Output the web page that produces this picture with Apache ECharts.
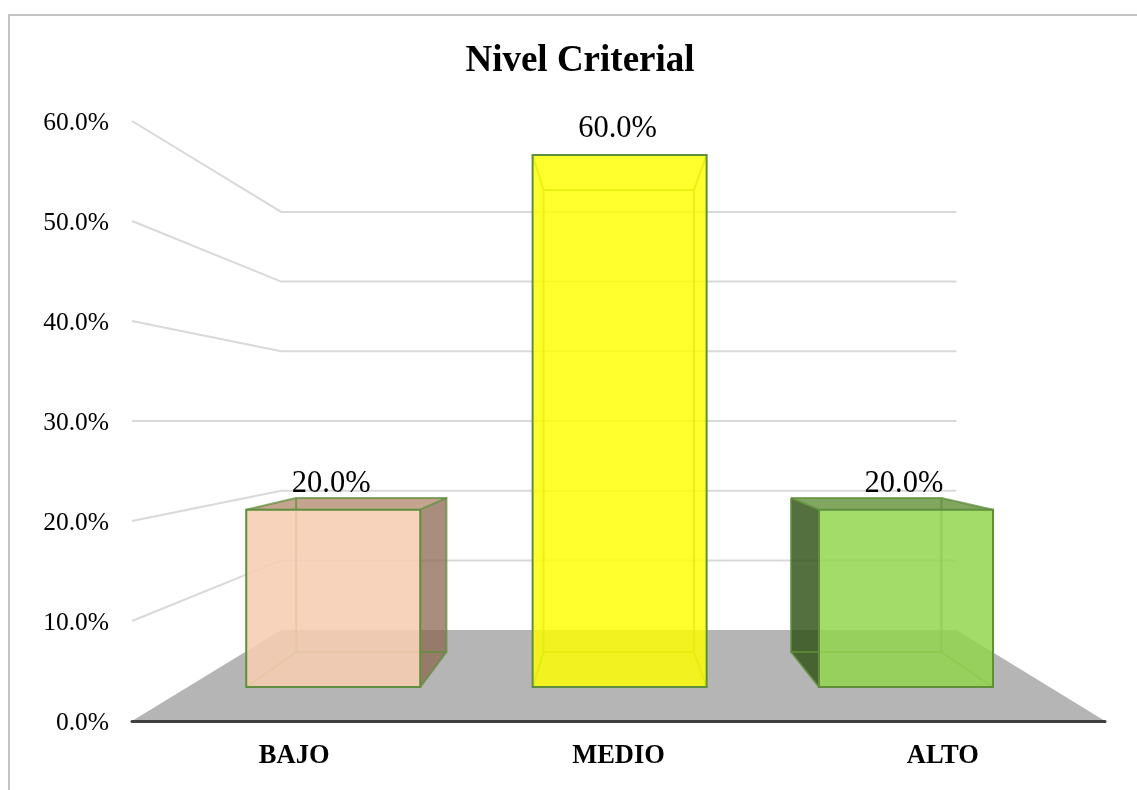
<!DOCTYPE html>
<html>
<head>
<meta charset="utf-8">
<style>html,body{margin:0;padding:0;background:#fff}#c{width:1137px;height:790px}</style>
<script src="https://cdn.jsdelivr.net/npm/echarts@6/dist/echarts.min.js"></script>
</head>
<body>
<div id="c"></div>
<script>
var titleText = 'Nivel Criterial';
var categories = ['BAJO', 'MEDIO', 'ALTO'];
var values = [20, 60, 20];
var gridTicks = [10, 20, 30, 40, 50, 60];
var frontColors = ['rgba(245,205,176,0.88)', 'rgba(255,255,0,0.82)', 'rgba(146,213,78,0.84)'];
var sideColors = ['rgba(140,104,80,0.75)', 'rgba(140,140,0,0.75)', 'rgba(46,80,20,0.82)'];
var topColors = ['rgba(181,141,115,0.8)', 'rgba(200,200,0,0.8)', 'rgba(100,146,60,0.82)'];

var FONT = '"Liberation Serif","Times New Roman",serif';
var WALL_S = 0.697, WALL_SX = 0.694;
var BAR_FRONT_S = 0.887, BAR_FRONT_SX = 0.883;
var BAR_BACK_S = 0.77, BAR_BACK_SX = 0.763;
var VP_DX = 1, BAR_DX = 1, VP_VALUE = 30, BAR_RATIO = 0.6076;
var EDGE = '#5f8f3c', INNER_EDGE = 'rgba(95,143,60,0.75)';

function projector(api, params) {
  var cs = params.coordSys;
  var vx = cs.x + cs.width / 2 + VP_DX;
  var vy = api.coord([0, VP_VALUE])[1];
  return function (x, y, s, sx) { return [vx + (x - vx) * sx, vy + (y - vy) * s]; };
}
function poly(points, fill) {
  return { type: 'polygon', shape: { points: points }, style: { fill: fill, stroke: null } };
}
function line(points, color, w) {
  return { type: 'polyline', shape: { points: points }, style: { fill: null, stroke: color, lineWidth: w } };
}

function renderFloor(params, api) {
  var cs = params.coordSys, P = projector(api, params);
  var y0 = api.coord([0, 0])[1], l = cs.x, r = cs.x + cs.width;
  return poly([[l, y0], [r, y0], P(r, y0, WALL_S, WALL_SX), P(l, y0, WALL_S, WALL_SX)], '#b5b5b5');
}
function renderGrid(params, api) {
  var cs = params.coordSys, P = projector(api, params);
  var y = api.coord([0, api.value(1)])[1], l = cs.x, r = cs.x + cs.width;
  return line([[l, y], P(l, y, WALL_S, WALL_SX), P(r, y, WALL_S, WALL_SX)], '#d9d9d9', 2);
}
function renderBar(params, api) {
  var i = params.dataIndex, P = projector(api, params);
  var c = api.coord([api.value(0), api.value(1)]);
  var y0 = api.coord([0, 0])[1];
  var hw = api.size([1, 0])[0] * BAR_RATIO / 2;
  var xl = c[0] - hw, xr = c[0] + hw, yt = c[1];
  function front(x, y) { var p = P(x, y, BAR_FRONT_S, BAR_FRONT_SX); return [p[0] + BAR_DX, p[1]]; }
  function back(x, y) { return P(x, y, BAR_BACK_S, BAR_BACK_SX); }
  var ftl = front(xl, yt), ftr = front(xr, yt), fbl = front(xl, y0), fbr = front(xr, y0);
  var btl = back(xl, yt), btr = back(xr, yt), bbl = back(xl, y0), bbr = back(xr, y0);
  var out = [];
  // visible side and top faces depend on where the bar sits relative to the vanishing point
  if (btr[0] > ftr[0]) out.push(poly([ftr, btr, bbr, fbr], sideColors[i]));
  if (btl[0] < ftl[0]) out.push(poly([ftl, btl, bbl, fbl], sideColors[i]));
  if (btl[1] < ftl[1]) out.push(poly([ftl, ftr, btr, btl], topColors[i]));
  // rear edges
  out.push(line([btl, btr, bbr, bbl, btl], INNER_EDGE, 2));
  out.push(line([ftl, btl], INNER_EDGE, 2), line([ftr, btr], INNER_EDGE, 2));
  out.push(line([fbl, bbl], INNER_EDGE, 2), line([fbr, bbr], INNER_EDGE, 2));
  // front face
  out.push({
    type: 'polygon',
    shape: { points: [ftl, ftr, fbr, fbl] },
    style: { fill: frontColors[i], stroke: EDGE, lineWidth: 2 }
  });
  out.push({
    type: 'text',
    style: {
      text: api.value(1).toFixed(1) + '%',
      x: ftl[0] + (ftr[0] - ftl[0]) / 2 - 2,
      y: ftl[1] - 25.5,
      align: 'center', verticalAlign: 'middle',
      font: '30.5px ' + FONT, fill: '#000'
    }
  });
  return { type: 'group', children: out };
}

var chart = echarts.init(document.getElementById('c'), null, { renderer: 'canvas' });
chart.setOption({
  animation: false,
  backgroundColor: '#fff',
  title: {
    text: titleText, left: 575, top: 38, textAlign: 'center',
    textStyle: { fontFamily: FONT, fontWeight: 'bold', fontSize: 37, color: '#000' }
  },
  grid: { left: 132, right: 32, top: 121, bottom: 69, containLabel: false },
  xAxis: {
    type: 'category', data: categories,
    axisTick: { show: false },
    axisLine: { show: true, lineStyle: { color: '#404040', width: 3 } },
    axisLabel: { margin: 22, fontFamily: FONT, fontWeight: 'bold', fontSize: 26.5, color: '#000' },
    z: 5
  },
  yAxis: {
    type: 'value', min: 0, max: 60, interval: 10,
    axisLine: { show: false }, axisTick: { show: false }, splitLine: { show: false },
    axisLabel: {
      margin: 23, fontFamily: FONT, fontSize: 25.5, color: '#000',
      formatter: function (v) { return '{a|' + v.toFixed(1) + '%}'; },
      rich: { a: { fontFamily: FONT, fontSize: 25.5, color: '#000', lineHeight: 30, padding: [5, 0, 0, 0] } }
    }
  },
  graphic: [
    { type: 'polyline', silent: true, shape: { points: [[9, 790], [9, 15], [1137, 15]] },
      style: { fill: null, stroke: '#c4c4c4', lineWidth: 2 } }
  ],
  series: [
    { type: 'custom', name: 'floor', z: 1, silent: true, clip: false, data: [[0, 0]], renderItem: renderFloor },
    { type: 'custom', name: 'grid', z: 2, silent: true, clip: false,
      data: gridTicks.map(function (t) { return [0, t]; }), renderItem: renderGrid },
    { type: 'custom', name: 'Nivel', z: 3, clip: false,
      data: values.map(function (v, i) { return [i, v]; }), renderItem: renderBar }
  ]
});
</script>
</body>
</html>
